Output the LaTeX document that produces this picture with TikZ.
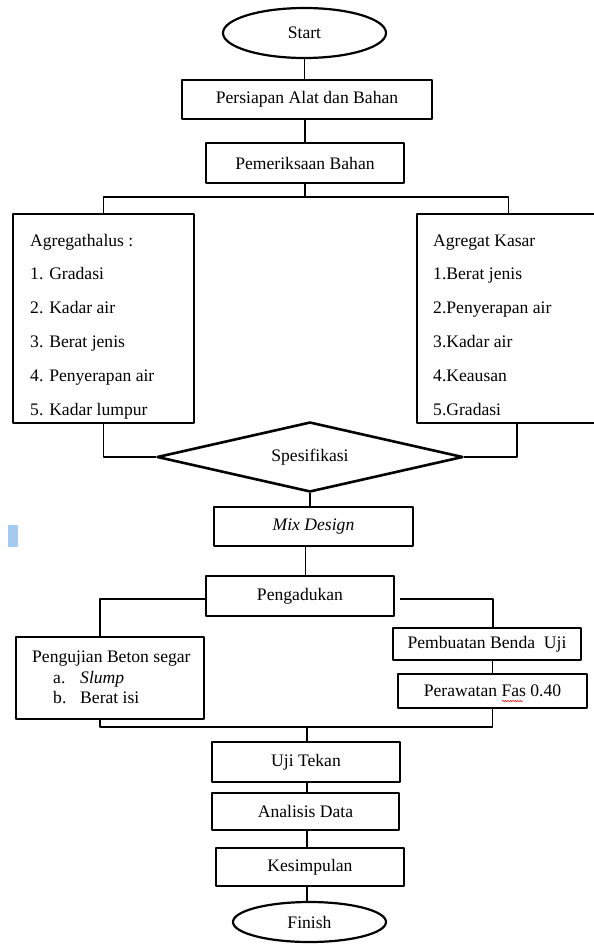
\documentclass[tikz,border=0pt]{standalone}
\usepackage{fontspec}
\setmainfont{Liberation Serif}
\usepgflibrary{shapes}
\usetikzlibrary{decorations.pathmorphing}
\definecolor{markblue}{RGB}{166,202,240}

\begin{document}
\begin{tikzpicture}[x=1pt,y=-1pt,join=round,
         font=\fontsize{17.6}{20}\selectfont,
         kotak/.style={draw,line width=2.4pt,inner sep=0pt},
         terminal/.style={draw,ellipse,line width=2.2pt,inner sep=0pt},
         garis/.style={line width=1.1pt},
         isi/.style={anchor=base west,inner sep=0pt}] %flowchart penelitian beton
         \useasboundingbox (0,0) rectangle (594,945);
         \node[terminal,minimum width=163pt,minimum height=50pt] (start) at (304.5,33) {Start};
         \node[kotak,minimum width=250pt,minimum height=39pt] (persiapan) at (307,99.5) {Persiapan Alat dan Bahan};
         \node[kotak,minimum width=198pt,minimum height=40pt] (periksa) at (305,163) {Pemeriksaan Bahan};
         \node[kotak,minimum width=181pt,minimum height=209pt] (halus) at (103.5,318.5) {};
         \node[kotak,minimum width=183pt,minimum height=209pt] (kasar) at (508.5,318.5) {};
         \foreach \t [count=\i from 0] in {Agregathalus :,1. Gradasi,2. Kadar air,3. Berat jenis,4. Penyerapan air,5. Kadar lumpur}
                \node[isi] (halus\i) at (30,{246+33.8*\i}) {\t};
         \foreach \t [count=\i from 0] in {Agregat Kasar,1.Berat jenis,2.Penyerapan air,3.Kadar air,4.Keausan,5.Gradasi}
                \node[isi] (kasar\i) at (433,{246+33.8*\i}) {\t};
         \node[draw,diamond,shape aspect=4.4,line width=2.6pt,minimum width=306pt,minimum height=70pt,inner sep=0pt] (spek) at (310,457) {Spesifikasi};
         \node[kotak,minimum width=199pt,minimum height=39pt] (mix) at (313.5,526.5) {\textit{Mix Design}};
         \node[kotak,minimum width=188pt,minimum height=40pt] (aduk) at (300,596) {Pengadukan};
         \node[kotak,minimum width=188pt,minimum height=82pt] (uji) at (110,678) {};
         \node[isi] (uji0) at (32,662) {Pengujian Beton segar};
         \node[isi] (uji1) at (53,683) {a.};
         \node[isi] (slump) at (80,683) {\textit{Slump}};
         \node[isi] (uji2) at (53,703) {b.};
         \node[isi] (isi) at (80,703) {Berat isi};
         \node[kotak,minimum width=188pt,minimum height=32pt] (buat) at (487,644) {Pembuatan Benda\ \ Uji};
         \node[kotak,minimum width=189pt,minimum height=34pt] (rawat) at (492.5,691) {Perawatan Fas 0.40};
         \node[kotak,minimum width=188pt,minimum height=40pt] (tekan) at (306,762) {Uji Tekan};
         \node[kotak,minimum width=187pt,minimum height=37pt] (analisis) at (305.5,811.5) {Analisis Data};
         \node[kotak,minimum width=188pt,minimum height=38pt] (simpul) at (310,867) {Kesimpulan};
         \node[terminal,minimum width=153pt,minimum height=40pt] (finish) at (309.5,922) {Finish};
         \coordinate (pisah) at (305,197);
         \coordinate (gabung) at (307,727);
         \draw[garis] (start.south) -- (start.south |- persiapan.north);
         \draw[garis] (periksa.north) -- (periksa.north |- persiapan.south);
         \draw[garis] (periksa.south) -- (pisah);
         \draw[garis] (halus.north) |- (pisah) -| (kasar.north);
         \draw[garis] (halus.south) |- (spek.west);
         \draw[garis] ([xshift=8.5pt]kasar.south) |- (spek.east);
         \draw[garis] (spek.south) -- (spek.south |- mix.north);
         \draw[garis] ([xshift=-8pt]mix.south) -- ([xshift=-8pt]mix.south |- aduk.north);
         \draw[garis] ([yshift=-3pt]aduk.west) -| ([xshift=-10pt]uji.north);
         \draw[garis] ([xshift=5pt,yshift=-3pt]aduk.east) -| ([xshift=6pt]buat.north);
         \draw[garis] (rawat.north) -- (rawat.north |- buat.south);
         \draw[garis] ([xshift=-10pt]uji.south) |- (gabung) -| (rawat.south);
         \draw[garis] (gabung) -- (gabung |- tekan.north);
         \draw[garis] (tekan.south -| gabung) -- (analisis.north -| gabung);
         \draw[garis] (analisis.south -| gabung) -- (simpul.north -| gabung);
         \draw[garis] (simpul.south -| gabung) -- (finish.north -| gabung);
         \fill[markblue] (8,525) rectangle (18,547);
         \draw[red,line width=0.5pt,decorate,decoration={snake,amplitude=0.7pt,segment length=2.5pt}] (502,701) -- (523,701);
    \end{tikzpicture}
\end{document}
